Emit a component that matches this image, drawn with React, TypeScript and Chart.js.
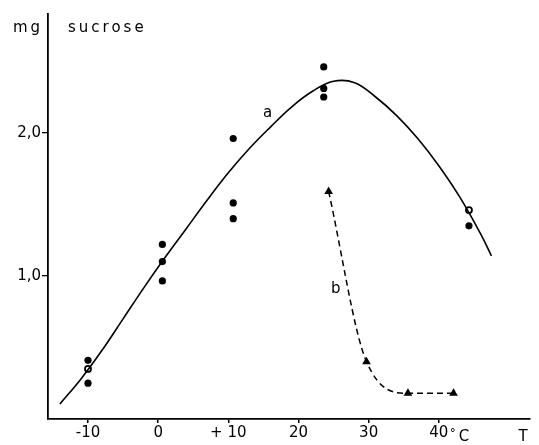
import React, { useEffect, useRef } from "react";
import { Chart, registerables } from "chart.js";

Chart.register(...registerables);

// Curve a (fitted line)
const curveT = [-14, -11, -8, -5, -2, 1, 4, 7, 10, 13, 16, 19, 22, 25, 28, 31, 34, 37, 40, 43, 46, 47.5];
const curveY = [0.105, 0.28, 0.48, 0.7, 0.92, 1.13, 1.33, 1.53, 1.72, 1.89, 2.04, 2.18, 2.29, 2.36, 2.35, 2.25, 2.12, 1.96, 1.77, 1.55, 1.29, 1.14];

// Measured points (filled circles)
const dotT = [-10, -10, 0.6, 0.6, 0.6, 10.7, 10.7, 10.7, 23.6, 23.6, 23.6, 44.3];
const dotY = [0.41, 0.25, 1.22, 1.1, 0.965, 1.96, 1.51, 1.4, 2.46, 2.31, 2.25, 1.35];

// Open circles
const openT = [-10, 44.3];
const openY = [0.35, 1.46];

// Curve b (triangles)
const triT = [24.3, 29.7, 35.6, 42.1];
const triY = [1.59, 0.4, 0.18, 0.18];

const xTicks = [-10, 0, 10, 20, 30, 40];
const xTickLabels = ["-10", "0", "+ 10", "20", "30", "40"];
const yTicks = [1, 2];
const yTickLabels = ["1,0", "2,0"];

const FONT = "DejaVu Sans";

const textPlugin = {
  id: "texts",
  afterDraw(chart: any) {
    const ctx = chart.ctx;
    const xs = chart.scales.x;
    const ys = chart.scales.y;
    ctx.save();
    ctx.fillStyle = "#000";
    ctx.font = `15px "${FONT}"`;
    ctx.textBaseline = "middle";
    ctx.textAlign = "left";
    (ctx as any).letterSpacing = "3px";
    ctx.fillText("mg", 13, 28);
    ctx.fillText("sucrose", 68, 28);
    (ctx as any).letterSpacing = "0px";
    ctx.textAlign = "center";
    ctx.fillText("a", xs.getPixelForValue(15.6), ys.getPixelForValue(2.14));
    ctx.fillText("b", xs.getPixelForValue(25.3), ys.getPixelForValue(0.91));
    const labelY = 437;
    ctx.textAlign = "left";
    ctx.font = `12px "${FONT}"`;
    ctx.fillText("°", xs.getPixelForValue(40) + 11, labelY - 3);
    ctx.font = `15px "${FONT}"`;
    ctx.fillText("C", xs.getPixelForValue(40) + 20, labelY);
    ctx.textAlign = "center";
    ctx.fillText("T", xs.getPixelForValue(52), labelY);
    ctx.restore();
  },
};

export default function App() {
  const ref = useRef<HTMLCanvasElement>(null);
  useEffect(() => {
    document.body.style.margin = "0";
    const canvas = ref.current!;
    const chart = new Chart(canvas, {
      type: "scatter",
      data: {
        datasets: [
          {
            data: curveT.map((t, i) => ({ x: t, y: curveY[i] })),
            showLine: true,
            borderColor: "#000",
            borderWidth: 1.6,
            pointRadius: 0,
            tension: 0.4,
          } as any,
          {
            data: dotT.map((t, i) => ({ x: t, y: dotY[i] })),
            pointRadius: 3.6,
            backgroundColor: "#000",
            borderColor: "#000",
            borderWidth: 0,
          },
          {
            data: openT.map((t, i) => ({ x: t, y: openY[i] })),
            pointRadius: 3,
            backgroundColor: "#fff",
            borderColor: "#000",
            borderWidth: 1.8,
          },
          {
            data: triT.map((t, i) => ({ x: t, y: triY[i] })),
            showLine: true,
            borderColor: "#000",
            borderWidth: 1.5,
            borderDash: [6, 4],
            cubicInterpolationMode: "monotone",
            pointStyle: "triangle",
            pointRadius: 5,
            backgroundColor: "#000",
            pointBorderColor: "#000",
            pointBorderWidth: 0,
          } as any,
        ],
      },
      options: {
        responsive: false,
        animation: false,
        layout: { padding: { top: 14, right: 9, left: 0, bottom: 0 } },
        plugins: { legend: { display: false }, tooltip: { enabled: false } },
        scales: {
          x: {
            type: "linear",
            min: -15.7,
            max: 53,
            afterBuildTicks: (s: any) => {
              s.ticks = xTicks.map((v) => ({ value: v }));
            },
            afterFit: (s: any) => {
              s.height = 26;
            },
            ticks: {
              color: "#000",
              font: { family: FONT, size: 15 },
              padding: 1,
              maxRotation: 0,
              autoSkip: false,
              callback: (v: any) => {
                const i = xTicks.indexOf(Number(v));
                return i >= 0 ? xTickLabels[i] : "";
              },
            },
            grid: { drawOnChartArea: false, drawTicks: true, tickLength: 4, color: "#000", lineWidth: 1.5 },
            border: { display: true, color: "#000", width: 1.8 },
          },
          y: {
            type: "linear",
            min: 0,
            max: 2.83,
            afterBuildTicks: (s: any) => {
              s.ticks = yTicks.map((v) => ({ value: v }));
            },
            afterFit: (s: any) => {
              s.width = 48;
            },
            ticks: {
              color: "#000",
              font: { family: FONT, size: 15 },
              padding: 1,
              autoSkip: false,
              callback: (v: any) => {
                const i = yTicks.indexOf(Number(v));
                return i >= 0 ? yTickLabels[i] : "";
              },
            },
            grid: { drawOnChartArea: false, drawTicks: true, tickLength: 6, color: "#000", lineWidth: 1.3 },
            border: { display: true, color: "#000", width: 1.8 },
          },
        },
      },
      plugins: [textPlugin],
    });
    return () => chart.destroy();
  }, []);
  return <canvas ref={ref} width={539} height={445} style={{ display: "block" }} />;
}
